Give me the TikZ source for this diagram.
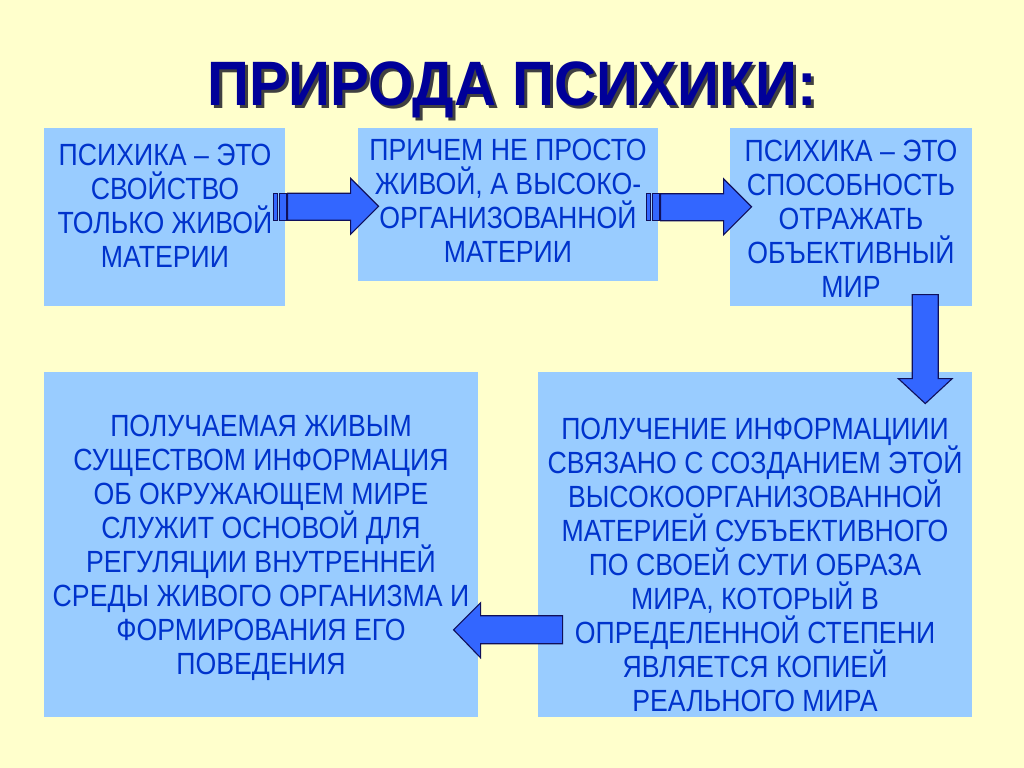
\documentclass[tikz,border=0pt]{standalone}
\usepackage{fontspec}
\setmainfont[FakeStretch=0.87]{Liberation Sans}
\newfontfamily\titlefont[FakeStretch=0.93]{Liberation Sans}
\usepackage{tikz}
\usetikzlibrary{calc}
\definecolor{SlideCream}{HTML}{FFFFCC}
\definecolor{BoxBlue}{HTML}{99CCFF}
\definecolor{TextBlue}{HTML}{0033CC}
\definecolor{TitleBlue}{HTML}{000099}
\definecolor{ArrowBlue}{HTML}{3366FF}
\definecolor{ArrowEdge}{HTML}{10105A}

\tikzset{
  box/.style={fill=BoxBlue, draw=none, inner sep=0pt, anchor=north west},
  boxtext/.style={text=TextBlue, align=center, inner sep=0pt,
    font=\fontsize{21.8}{24.2}\selectfont},
  arrowfill/.style={fill=ArrowBlue, draw=ArrowEdge, line width=0.8pt, line join=miter}
}

\begin{document}
\begin{tikzpicture}[x=0.025cm,y=-0.025cm]
    \fill[SlideCream] (0,0) rectangle (1024,768);
    \useasboundingbox (0,0) rectangle (1024,768);

    % title
    \node[text=black!75, inner sep=0pt, font=\titlefont\bfseries\fontsize{44.6}{50}\selectfont] (titleShadow) at (515,93) {ПРИРОДА ПСИХИКИ:};
    \node[text=TitleBlue, inner sep=0pt, font=\titlefont\bfseries\fontsize{44.6}{50}\selectfont] (title) at (512,90) {ПРИРОДА ПСИХИКИ:};

    % boxes
    \node[box, minimum width=241*0.025cm, minimum height=178*0.025cm] (b1) at (44,128) {};
    \node[box, minimum width=300*0.025cm, minimum height=153*0.025cm] (b2) at (358,128) {};
    \node[box, minimum width=242*0.025cm, minimum height=178*0.025cm] (b3) at (730,128) {};
    \node[box, minimum width=434*0.025cm, minimum height=345*0.025cm] (b4) at (44,372) {};
    \node[box, minimum width=434*0.025cm, minimum height=345*0.025cm] (b5) at (538,372) {};

    % texts
    \node[boxtext] (t1) at (165,206) {ПСИХИКА – ЭТО\\СВОЙСТВО\\ТОЛЬКО ЖИВОЙ\\МАТЕРИИ};
    \node[boxtext] (t2) at (508,201) {ПРИЧЕМ НЕ ПРОСТО\\ЖИВОЙ, А ВЫСОКО-\\ОРГАНИЗОВАННОЙ\\МАТЕРИИ};
    \node[boxtext] (t3) at (851,219) {ПСИХИКА – ЭТО\\СПОСОБНОСТЬ\\ОТРАЖАТЬ\\ОБЪЕКТИВНЫЙ\\МИР};
    \node[boxtext] (t4) at (261,548) {ПОЛУЧАЕМАЯ ЖИВЫМ\\СУЩЕСТВОМ ИНФОРМАЦИЯ\\ОБ ОКРУЖАЮЩЕМ МИРЕ\\СЛУЖИТ ОСНОВОЙ ДЛЯ\\РЕГУЛЯЦИИ ВНУТРЕННЕЙ\\СРЕДЫ ЖИВОГО ОРГАНИЗМА И\\ФОРМИРОВАНИЯ ЕГО\\ПОВЕДЕНИЯ};
    \node[boxtext] (t5) at (755,565) {ПОЛУЧЕНИЕ ИНФОРМАЦИИИ\\СВЯЗАНО С СОЗДАНИЕМ ЭТОЙ\\ВЫСОКООРГАНИЗОВАННОЙ\\МАТЕРИЕЙ СУБЪЕКТИВНОГО\\ПО СВОЕЙ СУТИ ОБРАЗА\\МИРА, КОТОРЫЙ В\\ОПРЕДЕЛЕННОЙ СТЕПЕНИ\\ЯВЛЯЕТСЯ КОПИЕЙ\\РЕАЛЬНОГО МИРА};

    % right arrows with striped tails
    \coordinate (a12) at ($(b1.east)+(-12,-11)$);
    \coordinate (a23) at ($(b2.east)+(-12,2)$);
    \foreach \s in {a12,a23} {
     \draw[arrowfill] (\s) ++(0,-13) rectangle ++(4,27);
     \draw[arrowfill] (\s) ++(6,-13) rectangle ++(7,27);
     \draw[arrowfill] (\s) ++(14,-13) -- ++(63,0) -- ++(0,-15) -- ++(28,28)
       -- ++(-28,28) -- ++(0,-14) -- ++(-63,0) -- cycle;
    }

    % down arrow
    \coordinate (a35) at ($(b3.south)+(74,-12)$);
    \draw[arrowfill] (a35) ++(-13,0) -- ++(26,0) -- ++(0,84) -- ++(14,0)
      -- ++(-27,25) -- ++(-27,-25) -- ++(14,0) -- cycle;

    % left arrow
    \coordinate (a54) at ($(b4.east)+(-25,85)$);
    \draw[arrowfill] (a54) -- ++(27,-27) -- ++(0,13) -- ++(82,0) -- ++(0,28)
      -- ++(-82,0) -- ++(0,14) -- cycle;
\end{tikzpicture}
\end{document}
